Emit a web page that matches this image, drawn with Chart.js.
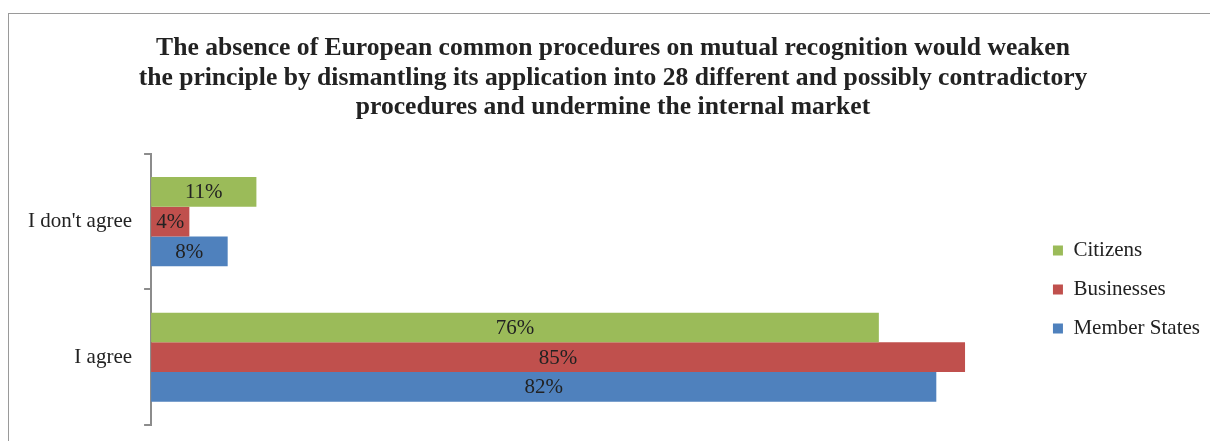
<!DOCTYPE html>
<html>
<head>
<meta charset="utf-8">
<script src="https://cdn.jsdelivr.net/npm/chart.js@4"></script>
<style>
  html, body { margin: 0; padding: 0; background: #fff; }
  #wrap { width: 1210px; height: 441px; position: relative; }
</style>
</head>
<body>
<div id="wrap"><canvas id="myChart" width="1210" height="441"></canvas></div>
<script>
const categories = ["I don't agree", 'I agree'];
const citizens = [11, 76];
const businesses = [4, 85];
const memberStates = [8, 82];
const seriesNames = ['Citizens', 'Businesses', 'Member States'];

const titleLines = [
    'The absence of European common procedures on mutual recognition would weaken',
    'the principle by dismantling its application into 28 different and possibly contradictory',
    'procedures and undermine the internal market'
];

const serif = '"Liberation Serif", "Times New Roman", serif';

// frame round the picture, like the exported office chart
const frame = {
    id: 'frame',
    beforeDraw(chart) {
        const ctx = chart.ctx;
        ctx.save();
        ctx.strokeStyle = '#9a9a9a';
        ctx.lineWidth = 1;
        ctx.strokeRect(8.5, 13.5, 1300, 500);
        ctx.restore();
    }
};

// percent labels in the middle of each bar
const barLabels = {
    id: 'barLabels',
    afterDatasetsDraw(chart) {
        const ctx = chart.ctx;
        ctx.save();
        ctx.font = '21px ' + serif;
        ctx.fillStyle = '#222';
        ctx.textAlign = 'center';
        ctx.textBaseline = 'middle';
        chart.data.datasets.forEach((ds, i) => {
            chart.getDatasetMeta(i).data.forEach((bar, j) => {
                const cx = (bar.base + bar.x) / 2;
                ctx.fillText(ds.data[j] + '%', cx, bar.y + 1);
            });
        });
        ctx.restore();
    }
};

const data = {
    labels: categories,
    datasets: [{
        label: seriesNames[0],
        backgroundColor: '#9BBB59',
        data: citizens
    }, {
        label: seriesNames[1],
        backgroundColor: '#C0504D',
        data: businesses
    }, {
        label: seriesNames[2],
        backgroundColor: '#4F81BD',
        data: memberStates
    }]
};

const config = {
    type: 'bar',
    data: data,
    options: {
        indexAxis: 'y',
        responsive: false,
        animation: false,
        layout: { padding: { left: 16, right: 0, top: 33, bottom: 16 } },
        datasets: {
            bar: { categoryPercentage: 0.657, barPercentage: 1.0 }
        },
        scales: {
            x: {
                display: false,
                min: 0,
                max: 92.3
            },
            y: {
                // labels sit mid-band, so no extra room is needed above/below
                afterFit(scale) {
                    scale.paddingTop = 0;
                    scale.paddingBottom = 0;
                },
                grid: {
                    offset: true,
                    drawOnChartArea: false,
                    tickLength: 7,
                    color: '#8c8c8c',
                    lineWidth: 2
                },
                border: { color: '#8c8c8c', width: 2 },
                ticks: {
                    padding: 12,
                    color: '#222',
                    font: { family: serif, size: 21 }
                }
            }
        },
        plugins: {
            title: {
                display: true,
                text: titleLines,
                color: '#222',
                font: { family: serif, size: 25.6, weight: 'bold', lineHeight: 1.17 },
                padding: { top: 0, bottom: 31 }
            },
            legend: {
                position: 'right',
                fullSize: false,
                labels: {
                    boxWidth: 10,
                    boxHeight: 10,
                    padding: 18,
                    color: '#222',
                    font: { family: serif, size: 21 }
                }
            },
            tooltip: { enabled: false }
        }
    },
    plugins: [frame, barLabels]
};

const myChart = new Chart(document.getElementById('myChart'), config);
</script>
</body>
</html>
